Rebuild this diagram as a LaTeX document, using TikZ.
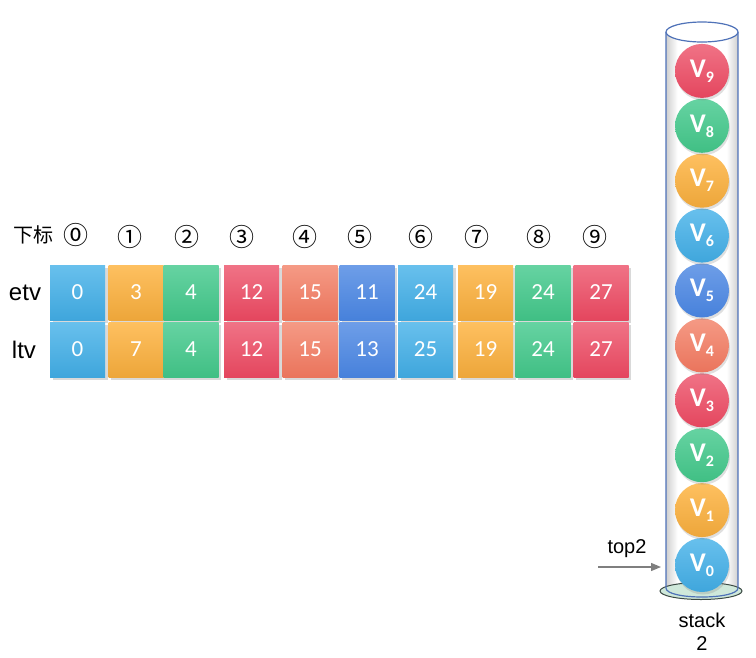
\documentclass[tikz,border=0pt]{standalone}
\usepackage{fontspec}
\setmainfont{Liberation Sans}
\newfontfamily\calfont{Carlito}
\newfontfamily\calbfont{Carlito Bold}
\newfontfamily\cjkfont{Noto Sans CJK SC}
\usetikzlibrary{shadows,arrows.meta}
\definecolor{lbT}{HTML}{68C0ED}\definecolor{lbB}{HTML}{3FA6DC}
\definecolor{orT}{HTML}{FEC060}\definecolor{orB}{HTML}{EDA63A}
\definecolor{grT}{HTML}{66D3A2}\definecolor{grB}{HTML}{40BF84}
\definecolor{rdT}{HTML}{F07386}\definecolor{rdB}{HTML}{E4465E}
\definecolor{saT}{HTML}{F59A85}\definecolor{saB}{HTML}{EA745C}
\definecolor{blT}{HTML}{6E9EE8}\definecolor{blB}{HTML}{4781DB}
\definecolor{cylline}{HTML}{4F72B8}
\definecolor{basefill}{HTML}{CFE8DA}
\definecolor{basedraw}{HTML}{3C4A44}
\definecolor{arrgray}{HTML}{7F7F7F}
\definecolor{glassgray}{HTML}{CFCFCF}
\pgfdeclarehorizontalshading{glass}{100bp}{color(0bp)=(glassgray); color(25bp)=(glassgray); color(33bp)=(white); color(67bp)=(white); color(75bp)=(glassgray); color(100bp)=(glassgray)}
\tikzset{
  cell/.style={minimum width=55pt, minimum height=55pt, inner sep=0pt, text=white,
    font=\calfont\fontsize{23}{23}\selectfont,
    drop shadow={shadow xshift=2.5pt, shadow yshift=-3pt, opacity=0.3}},
  ball/.style={circle, minimum size=54pt, inner sep=0pt, text=white,
    font=\calbfont\fontsize{27}{27}\selectfont,
    drop shadow={shadow xshift=1pt, shadow yshift=-2.5pt, opacity=0.25}},
  clb/.style={top color=lbT, bottom color=lbB},
  cor/.style={top color=orT, bottom color=orB},
  cgr/.style={top color=grT, bottom color=grB},
  crd/.style={top color=rdT, bottom color=rdB},
  csa/.style={top color=saT, bottom color=saB},
  cbl/.style={top color=blT, bottom color=blB},
  rowlab/.style={font=\fontsize{24}{24}\selectfont, inner sep=0pt},
  idx/.style={font=\cjkfont\fontsize{20}{20}\selectfont, inner sep=0pt},
  cdig/.style={font=\cjkfont\fontsize{25}{25}\selectfont, inner sep=0pt},
  lab/.style={font=\fontsize{20}{23}\selectfont, inner sep=0pt, align=center},
  arr/.style={draw=arrgray, line width=1.3pt, -{Triangle[length=10pt,width=8pt]}},
}
\newcommand{\vlab}[1]{V\raisebox{-5pt}{\fontsize{16}{16}\selectfont #1}}
\begin{document}
\begin{tikzpicture}[x=1pt,y=-1pt]
\useasboundingbox (0,0) rectangle (756,657);
% header
\node[idx] (hd) at (33,235) {下标};
\foreach \i/\x/\y/\s in {0/76/235/⓪,1/130/237/①,2/187/237/②,3/242/237/③,4/305/237/④,5/360/237/⑤,6/421/237/⑥,7/477/237/⑦,8/539/237/⑧,9/595/237/⑨}
  \node[cdig] (h\i) at (\x,\y) {\s};
% row labels
\node[rowlab] (etv) at (25,293) {etv};
\node[rowlab] (ltv) at (24,350) {ltv};
% cells
\foreach \i/\x/\st/\a/\b in {0/77.5/clb/0/0,1/136/cor/3/7,2/191/cgr/4/4,3/251.5/crd/12/12,4/310/csa/15/15,5/367/cbl/11/13,6/425.5/clb/24/25,7/485.5/cor/19/19,8/543/cgr/24/24,9/601/crd/27/27}{
  \node[cell,\st] (e\i) at (\x,292.5) {\a};
  \node[cell,\st] (l\i) at (\x,349.5) {\b};
}
% stack body
\shade[shading=glass]
  (666,32) -- (666,588) .. controls (666,600) and (738,600) .. (738,588) -- (738,32) -- cycle;
\draw[fill=basefill, draw=basedraw, line width=1pt] (701,591) ellipse [x radius=41, y radius=8.5];
\draw[cylline, line width=1.2pt]
  (666,32) -- (666,588) .. controls (666,600) and (738,600) .. (738,588) -- (738,32);
% balls
\foreach \i/\st in {0/clb,1/cor,2/cgr,3/crd,4/csa,5/cbl,6/clb,7/cor,8/cgr,9/crd}
  \node[ball,\st] (v\i) at (702,{565-54.9*\i}) {\vlab{\i}};
\draw[cylline, line width=1.2pt, fill=white] (702,32) ellipse [x radius=36, y radius=10];
% pointer
\coordinate (p0) at (598,567);
\coordinate (p1) at (661,567);
\draw[arr] (p0) -- (p1);
\node[lab] (top2) at (627,549) {top2};
\node[lab] (stk) at (702,632) {stack\\2};
\end{tikzpicture}
\end{document}
